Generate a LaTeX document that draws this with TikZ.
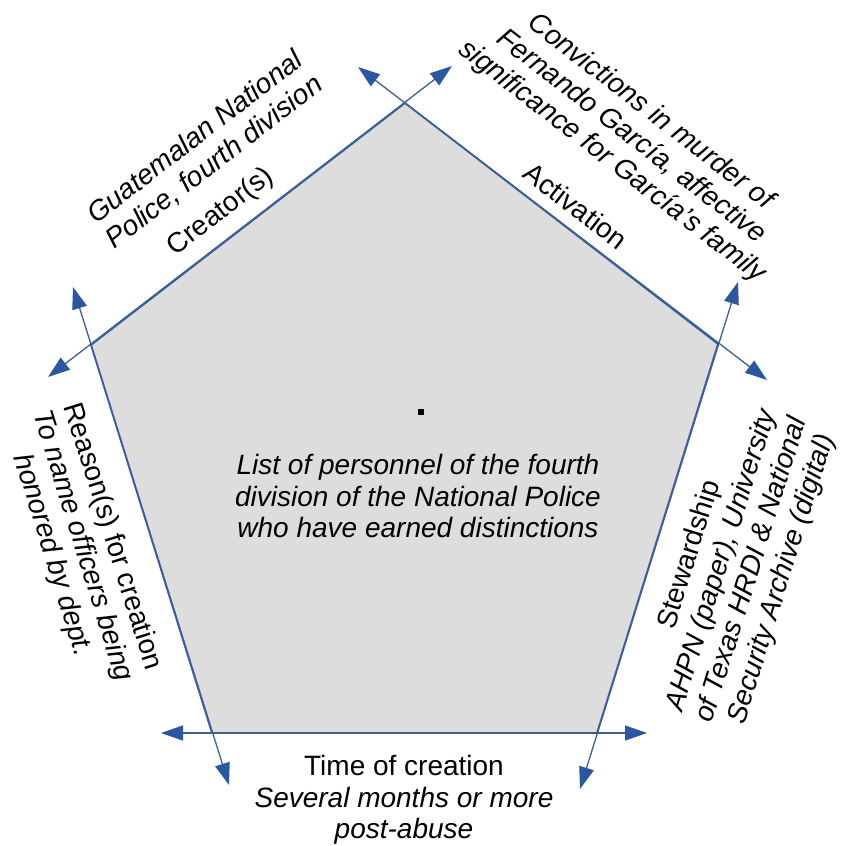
\documentclass[tikz,border=0pt]{standalone}
\usepackage{fontspec}
\setmainfont{Liberation Sans}
\usetikzlibrary{arrows.meta}
\definecolor{edgeblue}{HTML}{3D5F96}
\definecolor{headblue}{HTML}{2B56A0}
\definecolor{pentgray}{HTML}{DDDDDD}
\begin{document}
\begin{tikzpicture}[x=1pt,y=-1pt,
  lbl/.style={font=\fontsize{28}{31.5}\selectfont, align=center, inner sep=0pt},
  arr/.style={draw=edgeblue, line width=1.3pt,
    {Triangle[length=22pt,width=15pt,fill=headblue,color=headblue]}-{Triangle[length=22pt,width=15pt,fill=headblue,color=headblue]}},
  pent/.style={fill=pentgray, draw=edgeblue, line width=1.8pt, line join=miter}]
\useasboundingbox (0,0) rectangle (844,846);
% vertices
\coordinate (T) at (405,103);
\coordinate (R) at (718,344);
\coordinate (BR) at (597,733);
\coordinate (BL) at (212,733);
\coordinate (L) at (91,345);
% arrow ends
\coordinate (ltA) at (48,377);
\coordinate (ltB) at (452,66);
\coordinate (trA) at (358,67);
\coordinate (trB) at (767,380);
\coordinate (rA) at (738,282);
\coordinate (rB) at (580,789);
\coordinate (bA) at (647,733);
\coordinate (bB) at (161,733);
\coordinate (lA) at (229,785);
\coordinate (lB) at (73,287);
\filldraw[pent] (T) -- (R) -- (BR) -- (BL) -- (L) -- cycle;
\draw[arr] (ltA) -- (ltB);
\draw[arr] (trA) -- (trB);
\draw[arr] (rA) -- (rB);
\draw[arr] (bA) -- (bB);
\draw[arr] (lA) -- (lB);
\fill[black] (418,409) rectangle (424,415);
% labels
\node[lbl, rotate=37.6] (tlI) at (205,150) {\itshape Guatemalan National\\\itshape Police, fourth division};
\node[lbl, rotate=37.6] (tlL) at (221,212) {Creator(s)};
\node[lbl, rotate=-37.6] (trI) at (631,137) {\itshape Convictions in murder of\\\itshape Fernando García, affective\\\itshape significance for García’s family};
\node[lbl, rotate=-37.6] (trL) at (576,206) {Activation};
\node[lbl, rotate=72.7] (rL) at (690,555) {Stewardship};
\node[lbl, rotate=72.7] (rI) at (752,570) {\itshape AHPN (paper), University\\\itshape of Texas HRDI \& National\\\itshape Security Archive (digital)};
\node[lbl, rotate=-72.7] (lI) at (82,546) {Reason(s) for creation\\\itshape To name officers being\\\itshape honored by dept.};
\node[lbl] (bI) at (404,800) {Time of creation\\\itshape Several months or more\\\itshape post-abuse};
\node[lbl] (cI) at (418,496) {\itshape List of personnel of the fourth\\\itshape division of the National Police\\\itshape who have earned distinctions};
\end{tikzpicture}
\end{document}
